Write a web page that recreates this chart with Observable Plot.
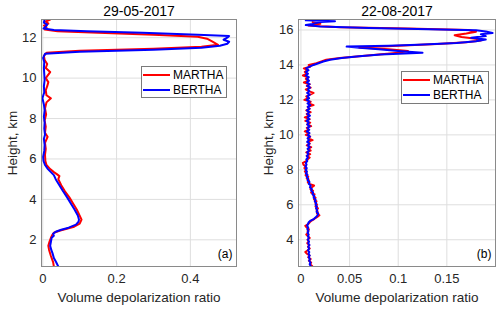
<!DOCTYPE html>
<html><head><meta charset="utf-8">
<script src="https://cdn.jsdelivr.net/npm/d3@7"></script>
<script src="https://cdn.jsdelivr.net/npm/@observablehq/plot@0.6"></script>
<style>
body{margin:0;background:#fff;font-family:"Liberation Sans",Arial,sans-serif;}
#wrap{position:relative;width:500px;height:309px;overflow:hidden;}
.panel{position:absolute;top:0;}
.legend{position:absolute;border:1px solid #7a7a7a;background:#fff;font-size:12px;color:#000;box-sizing:border-box;}
.legend .row{position:absolute;left:1px;height:14px;display:flex;align-items:center;white-space:nowrap;}
.legend .sw{width:27px;height:2px;margin-right:3px;}
</style>
</head><body>
<div id="wrap"></div>
<script>
const seriesNames = ["MARTHA", "BERTHA"];
const seriesColors = ["#ff0000", "#0000ff"];
const titles = ["29-05-2017", "22-08-2017"];
const tags = ["(a)", "(b)"];
const xLabel = "Volume depolarization ratio";
const yLabel = "Height, km";

// Panel (a)
const aXTicks = [0, 0.2, 0.4];
const aXTickLabels = ["0", "0.2", "0.4"];
const aYTicks = [2, 4, 6, 8, 10, 12];
const aYTickLabels = ["2", "4", "6", "8", "10", "12"];
const aMarthaH = [0.68,0.9,1.2,1.5,1.7,1.9,2.1,2.25,2.35,2.45,2.55,2.65,2.8,3.0,3.2,3.5,3.8,4.1,4.4,4.7,5.0,5.15,5.25,5.35,5.5,5.7,5.9,6.2,6.5,6.8,7.1,7.3,7.6,7.9,8.2,8.5,8.8,9.0,9.15,9.4,9.6,9.8,10.0,10.3,10.5,10.7,10.9,11.1,11.25,11.35,11.45,11.55,11.65,11.8,11.95,12.05,12.15,12.25,12.32,12.4,12.5,12.6,12.7,12.8,12.9];
const aMarthaV = [0.030,0.028,0.022,0.017,0.015,0.018,0.022,0.026,0.030,0.045,0.065,0.085,0.100,0.105,0.100,0.092,0.082,0.072,0.060,0.050,0.042,0.045,0.038,0.030,0.020,0.010,0.007,0.006,0.008,0.006,0.013,0.006,0.008,0.005,0.009,0.006,0.010,0.022,0.010,0.008,0.012,0.015,0.008,0.020,0.008,0.012,0.005,0.003,0.010,0.100,0.300,0.430,0.475,0.460,0.445,0.420,0.300,0.150,0.040,0.005,0.010,0.003,0.015,0.008,0.020];
const aBerthaH = [0.68,0.9,1.1,1.3,1.5,1.7,1.9,2.1,2.2,2.3,2.4,2.5,2.6,2.75,2.9,3.0,3.2,3.5,3.8,4.1,4.4,4.7,5.0,5.2,5.35,5.5,5.7,5.9,6.1,6.4,6.7,7.0,7.2,7.5,7.8,8.1,8.4,8.7,9.0,9.3,9.6,9.9,10.2,10.5,10.8,11.0,11.2,11.3,11.4,11.5,11.6,11.7,11.8,11.9,12.0,12.08,12.15,12.25,12.32,12.38,12.45,12.55,12.65,12.75,12.9];
const aBerthaV = [0.042,0.036,0.030,0.027,0.023,0.020,0.022,0.024,0.030,0.028,0.035,0.050,0.070,0.090,0.097,0.098,0.095,0.086,0.076,0.066,0.055,0.045,0.035,0.030,0.022,0.014,0.006,0.002,0.001,0.004,0.005,0.003,0.006,0.004,0.005,0.003,0.005,0.003,-0.001,0.004,0.003,0.005,0.004,0.003,0.004,0.001,0.006,0.100,0.300,0.430,0.480,0.500,0.505,0.490,0.500,0.505,0.420,0.270,0.120,0.030,0.002,0.008,0.012,0.003,0.005];

// Panel (b): noisy lower part on a 0.1 km grid, cloud part separately
const bXTicks = [0, 0.05, 0.1, 0.15];
const bXTickLabels = ["0", "0.05", "0.1", "0.15"];
const bYTicks = [4, 6, 8, 10, 12, 14, 16];
const bYTickLabels = ["4", "6", "8", "10", "12", "14", "16"];
const bGridH = [2.5,2.6,2.7,2.8,2.9,3.0,3.1,3.2,3.3,3.4,3.5,3.6,3.7,3.8,3.9,4.0,4.1,4.2,4.3,4.4,4.5,4.6,4.7,4.8,4.9,5.0,5.1,5.2,5.3,5.4,5.5,5.6,5.7,5.8,5.9,6.0,6.1,6.2,6.3,6.4,6.5,6.6,6.7,6.8,6.9,7.0,7.1,7.2,7.3,7.4,7.5,7.6,7.7,7.8,7.9,8.0,8.1,8.2,8.3,8.4,8.5,8.6,8.7,8.8,8.9,9.0,9.1,9.2,9.3,9.4,9.5,9.6,9.7,9.8,9.9,10.0,10.1,10.2,10.3,10.4,10.5,10.6,10.7,10.8,10.9,11.0,11.1,11.2,11.3,11.4,11.5,11.6,11.7,11.8,11.9,12.0,12.1,12.2,12.3,12.4,12.5,12.6,12.7,12.8,12.9,13.0,13.1,13.2,13.3,13.4,13.5,13.6,13.7,13.8,13.9];
const bBerthaGridV = [0.0100,0.0090,0.0098,0.0085,0.0092,0.0080,0.0090,0.0078,0.0086,0.0072,0.0085,0.0076,0.0088,0.0074,0.0083,0.0070,0.0082,0.0072,0.0080,0.0068,0.0078,0.0066,0.0075,0.0063,0.0072,0.0080,0.0100,0.0135,0.0155,0.0170,0.0178,0.0160,0.0168,0.0155,0.0165,0.0150,0.0158,0.0142,0.0150,0.0130,0.0138,0.0118,0.0125,0.0105,0.0112,0.0092,0.0100,0.0080,0.0088,0.0068,0.0075,0.0058,0.0068,0.0050,0.0062,0.0048,0.0060,0.0045,0.0058,0.0050,0.0065,0.0055,0.0072,0.0060,0.0078,0.0065,0.0085,0.0068,0.0090,0.0070,0.0088,0.0065,0.0085,0.0068,0.0092,0.0070,0.0088,0.0062,0.0085,0.0068,0.0090,0.0065,0.0082,0.0060,0.0086,0.0068,0.0092,0.0066,0.0085,0.0062,0.0088,0.0070,0.0095,0.0068,0.0088,0.0060,0.0084,0.0066,0.0090,0.0064,0.0086,0.0070,0.0092,0.0065,0.0088,0.0060,0.0082,0.0062,0.0080,0.0050,0.0072,0.0052,0.0078,0.0055,0.0090];
const bMarthaGridV = [0.0115,0.0095,0.0105,0.0082,0.0100,0.0075,0.0088,0.0062,0.0045,0.0070,0.0090,0.0072,0.0085,0.0065,0.0080,0.0068,0.0090,0.0072,0.0055,0.0075,0.0068,0.0082,0.0060,0.0045,0.0075,0.0090,0.0110,0.0140,0.0168,0.0190,0.0165,0.0172,0.0160,0.0175,0.0150,0.0165,0.0148,0.0160,0.0135,0.0150,0.0128,0.0140,0.0105,0.0125,0.0098,0.0110,0.0135,0.0085,0.0070,0.0082,0.0060,0.0075,0.0048,0.0060,0.0040,0.0055,0.0035,0.0050,0.0025,0.0020,0.0055,0.0070,0.0090,0.0060,0.0095,0.0055,0.0100,0.0075,0.0105,0.0060,0.0090,0.0070,0.0120,0.0075,0.0095,0.0050,0.0085,0.0040,0.0080,0.0060,0.0105,0.0065,0.0095,0.0045,0.0090,0.0040,0.0085,0.0060,0.0100,0.0055,0.0090,0.0070,0.0130,0.0080,0.0100,0.0035,0.0075,0.0055,0.0095,0.0130,0.0080,0.0050,0.0100,0.0060,0.0090,0.0030,0.0080,0.0050,0.0075,0.0020,0.0065,0.0040,0.0070,0.0030,0.0095];
const bBerthaCloudH = [14.0,14.1,14.2,14.3,14.4,14.5,14.6,14.7,14.8,14.9,14.98,15.05,15.1,15.15,15.25,15.35,15.45,15.55,15.65,15.75,15.83,15.92,15.98,16.05,16.12,16.2,16.28,16.35,16.45,16.5,16.55];
const bBerthaCloudV = [0.0130,0.0180,0.0230,0.0300,0.0420,0.0600,0.0820,0.1250,0.1000,0.0800,0.0600,0.0470,0.0900,0.1200,0.1600,0.1800,0.1900,0.1750,0.1900,0.1850,0.1970,0.1900,0.1800,0.1200,0.0700,0.0200,0.0050,0.0120,0.0200,0.0350,0.0050];
const bMarthaCloudH = [14.0,14.1,14.2,14.3,14.4,14.5,14.6,14.7,14.8,14.9,15.0,15.1,15.2,15.3,15.4,15.5,15.6,15.7,15.8,15.9,16.0,16.08,16.15,16.25,16.35,16.45];
const bMarthaCloudV = [0.0080,0.0160,0.0210,0.0260,0.0400,0.0600,0.0800,0.1000,0.1100,0.0900,0.0600,0.1000,0.1400,0.1700,0.1850,0.1800,0.1650,0.1580,0.1700,0.1800,0.1720,0.1100,0.0400,0.0080,0.0200,0.0120];

function rows(hs, vs) { return hs.map((h, i) => ({h, v: vs[i]})); }

function makePanel(o) {
  const fx = d => o.xLabels[o.xTicks.indexOf(d)];
  const fy = d => o.yLabels[o.yTicks.indexOf(d)];
  return Plot.plot({
    width: 250, height: 309,
    marginTop: 19, marginBottom: 43, marginLeft: o.ml, marginRight: o.mr,
    style: {fontFamily: "'Liberation Sans', Arial, sans-serif", fontSize: "13px", color: "#262626", background: "transparent"},
    x: {domain: o.xDomain},
    y: {domain: o.yDomain},
    marks: [
      Plot.gridX(o.xTicks, {stroke: "#dedede", strokeOpacity: 1}),
      Plot.gridY(o.yTicks, {stroke: "#dedede", strokeOpacity: 1}),
      Plot.line(o.m, {x: "v", y: "h", stroke: seriesColors[0], strokeWidth: 2, clip: true}),
      Plot.line(o.b, {x: "v", y: "h", stroke: seriesColors[1], strokeWidth: 2, clip: true}),
      Plot.frame({stroke: "#8a8a8a"}),
      Plot.axisX(o.xTicks, {tickSize: 0, tickPadding: 7, tickFormat: fx, label: null, fill: "#262626"}),
      Plot.axisY(o.yTicks, {tickSize: 0, tickPadding: 5, tickFormat: fy, label: null, fill: "#262626"}),
      Plot.text([o.title], {frameAnchor: "top", dy: -8, lineAnchor: "middle", fontSize: 14, fill: "#000"}),
      Plot.text([xLabel], {frameAnchor: "bottom", dy: 31, lineAnchor: "middle", fontSize: 13.5, fill: "#262626"}),
      Plot.text([yLabel], {frameAnchor: "left", dx: -o.yLabelOff, rotate: -90, textAnchor: "middle", lineAnchor: "middle", fontSize: 13.5, fill: "#262626"}),
      Plot.text([o.tag], {frameAnchor: "bottom-right", dx: -4, dy: -9, textAnchor: "end", lineAnchor: "bottom", fontSize: 12, fill: "#000"})
    ]
  });
}

const wrap = document.getElementById("wrap");
const panels = [
  {left: 0, ml: 41, mr: 14, xDomain: [-0.0035, 0.525], yDomain: [0.68, 12.9], xTicks: aXTicks, xLabels: aXTickLabels, yTicks: aYTicks, yLabels: aYTickLabels, title: titles[0], tag: tags[0], m: rows(aMarthaH, aMarthaV), b: rows(aBerthaH, aBerthaV), yLabelOff: 29, legend: {left: 141, top: 66, w: 86, h: 32}},
  {left: 250, ml: 48, mr: 5, xDomain: [-0.0025, 0.2], yDomain: [2.47, 16.6], xTicks: bXTicks, xLabels: bXTickLabels, yTicks: bYTicks, yLabels: bYTickLabels, title: titles[1], tag: tags[1],
   m: rows(bGridH.concat(bMarthaCloudH), bMarthaGridV.concat(bMarthaCloudV)),
   b: rows(bGridH.concat(bBerthaCloudH), bBerthaGridV.concat(bBerthaCloudV)), yLabelOff: 30, legend: {left: 401, top: 71, w: 88, h: 33}}
];
for (const p of panels) {
  const div = document.createElement("div");
  div.className = "panel";
  div.style.left = p.left + "px";
  div.appendChild(makePanel(p));
  wrap.appendChild(div);
  const lg = document.createElement("div");
  lg.className = "legend";
  Object.assign(lg.style, {left: p.legend.left + "px", top: p.legend.top + "px", width: p.legend.w + "px", height: p.legend.h + "px"});
  seriesNames.forEach((n, i) => {
    const r = document.createElement("div");
    r.className = "row";
    r.style.top = (1 + i * 15) + "px";
    const sw = document.createElement("span");
    sw.className = "sw";
    sw.style.background = seriesColors[i];
    const t = document.createElement("span");
    t.textContent = n;
    r.appendChild(sw); r.appendChild(t);
    lg.appendChild(r);
  });
  wrap.appendChild(lg);
}
</script>
</body></html>
